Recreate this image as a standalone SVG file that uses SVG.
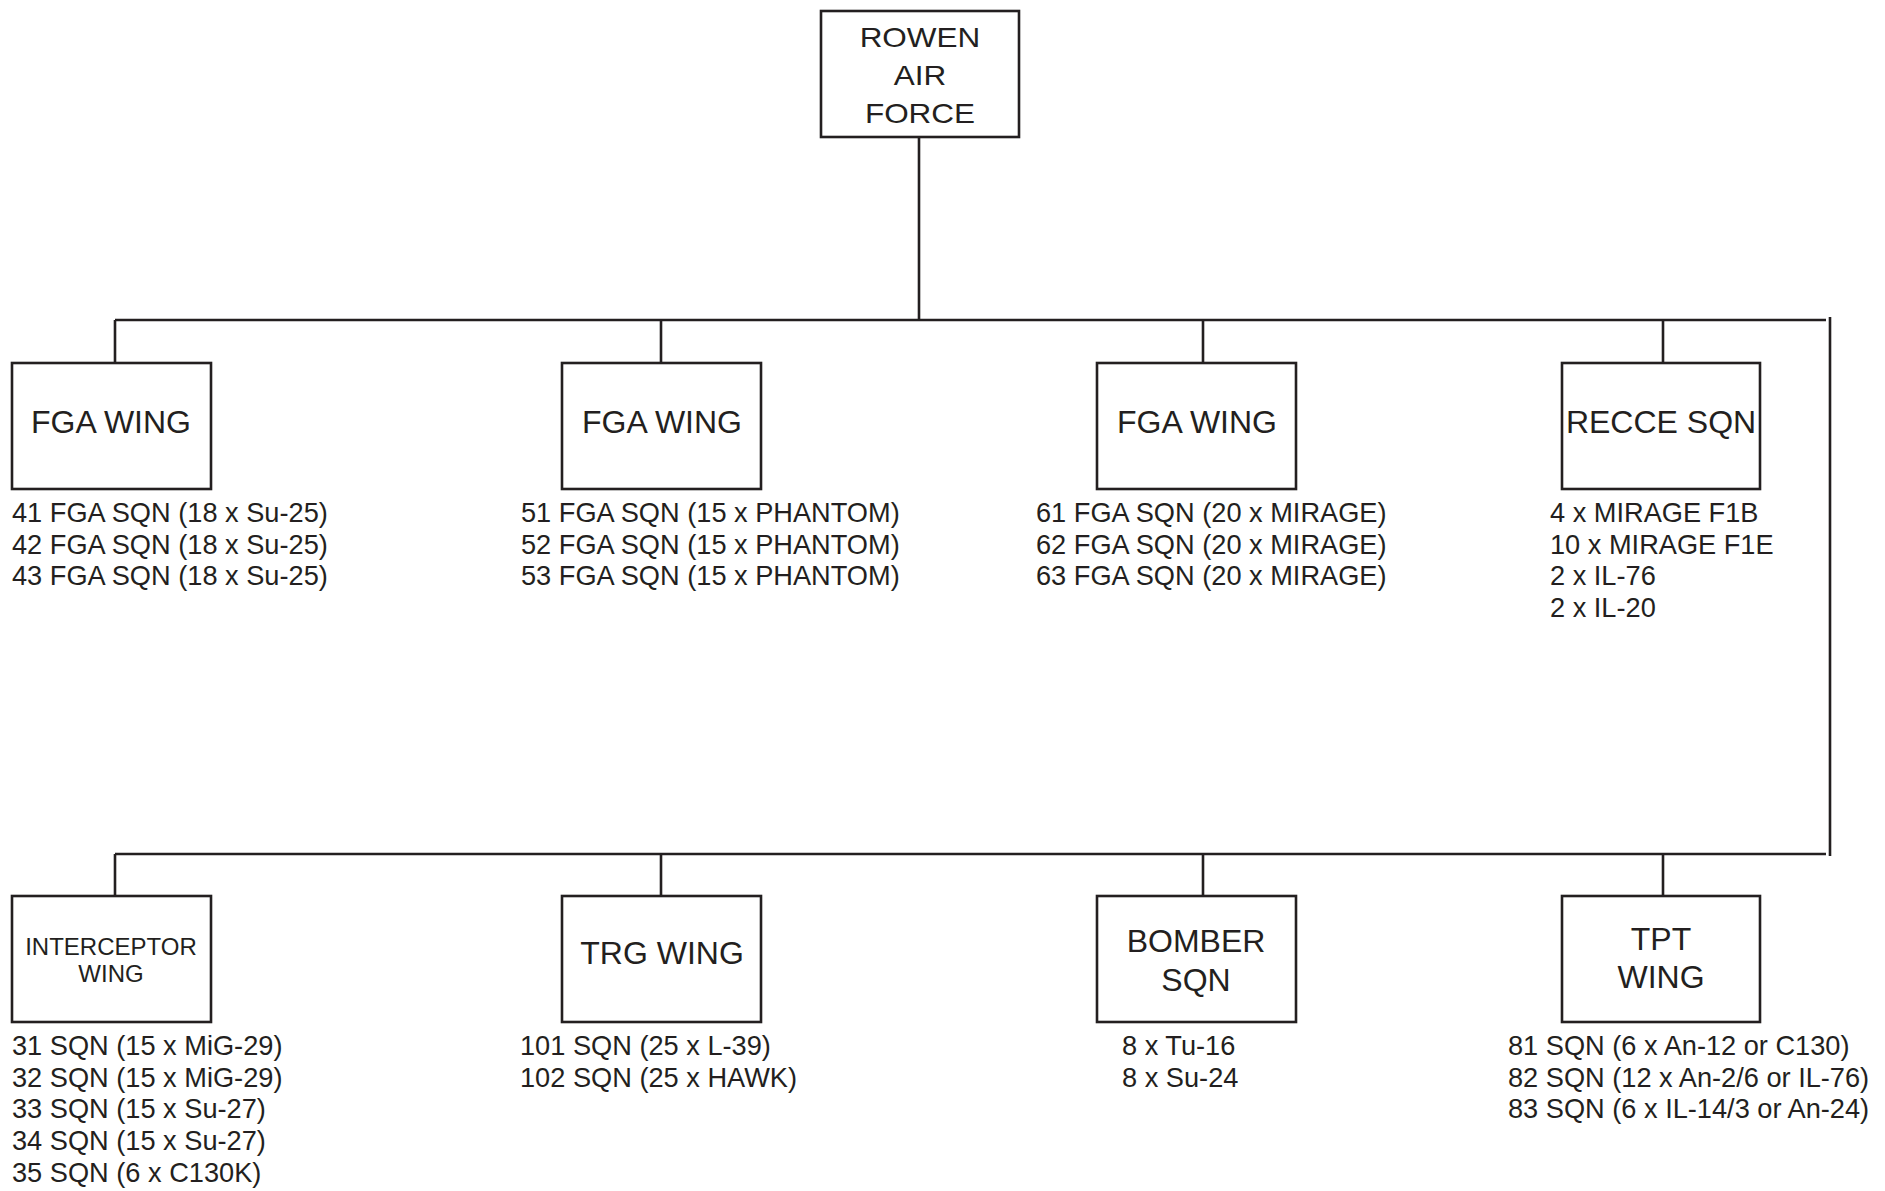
<svg xmlns="http://www.w3.org/2000/svg" width="1885" height="1191" viewBox="0 0 1885 1191">
<style>
.box{fill:#fff;stroke:#231f20;stroke-width:2.6}
.ln{fill:none;stroke:#231f20;stroke-width:2.6}
text{font-family:"Liberation Sans",Arial,Helvetica,sans-serif;fill:#231f20}
.t{font-size:32px;text-anchor:middle}
.r{font-size:31.5px;text-anchor:middle}
.s{font-size:24px;text-anchor:middle}
.l{font-size:27.2px}
</style>
<rect width="1885" height="1191" fill="#fff"/>
<g id="connectors">
<path class="ln" d="M919 137V320M115 320H1826M115 320V363M661 320V363M1203 320V363M1663 320V363"/>
<path class="ln" d="M1830 317V856"/>
<path class="ln" d="M115 854H1826M115 854V896M661 854V896M1203 854V896M1663 854V896"/>
</g>
<g id="root">
<rect class="box" x="821" y="11" width="198" height="126"/>
<text class="r" x="920" y="47" transform="translate(0,5.6) scale(1,0.88)">ROWEN</text>
<text class="r" x="920" y="85" transform="translate(0,10.2) scale(1,0.88)">AIR</text>
<text class="r" x="920" y="123" transform="translate(0,14.8) scale(1,0.88)">FORCE</text>
</g>
<g id="fga1">
<rect class="box" x="12" y="363" width="199" height="126"/>
<text class="t" x="111" y="433">FGA WING</text>
<text class="l" x="12" y="522">41 FGA SQN (18 x Su-25)</text>
<text class="l" x="12" y="554">42 FGA SQN (18 x Su-25)</text>
<text class="l" x="12" y="585">43 FGA SQN (18 x Su-25)</text>
</g>
<g id="fga2">
<rect class="box" x="562" y="363" width="199" height="126"/>
<text class="t" x="662" y="433">FGA WING</text>
<text class="l" x="521" y="522">51 FGA SQN (15 x PHANTOM)</text>
<text class="l" x="521" y="554">52 FGA SQN (15 x PHANTOM)</text>
<text class="l" x="521" y="585">53 FGA SQN (15 x PHANTOM)</text>
</g>
<g id="fga3">
<rect class="box" x="1097" y="363" width="199" height="126"/>
<text class="t" x="1197" y="433">FGA WING</text>
<text class="l" x="1036" y="522">61 FGA SQN (20 x MIRAGE)</text>
<text class="l" x="1036" y="554">62 FGA SQN (20 x MIRAGE)</text>
<text class="l" x="1036" y="585">63 FGA SQN (20 x MIRAGE)</text>
</g>
<g id="recce">
<rect class="box" x="1562" y="363" width="198" height="126"/>
<text class="t" x="1661" y="433">RECCE SQN</text>
<text class="l" x="1550" y="522">4 x MIRAGE F1B</text>
<text class="l" x="1550" y="554">10 x MIRAGE F1E</text>
<text class="l" x="1550" y="585">2 x IL-76</text>
<text class="l" x="1550" y="617">2 x IL-20</text>
</g>
<g id="interceptor">
<rect class="box" x="12" y="896" width="199" height="126"/>
<text class="s" x="111" y="955">INTERCEPTOR</text>
<text class="s" x="111" y="982">WING</text>
<text class="l" x="12" y="1055">31 SQN (15 x MiG-29)</text>
<text class="l" x="12" y="1087">32 SQN (15 x MiG-29)</text>
<text class="l" x="12" y="1118">33 SQN (15 x Su-27)</text>
<text class="l" x="12" y="1150">34 SQN (15 x Su-27)</text>
<text class="l" x="12" y="1182">35 SQN (6 x C130K)</text>
</g>
<g id="trg">
<rect class="box" x="562" y="896" width="199" height="126"/>
<text class="t" x="662" y="964">TRG WING</text>
<text class="l" x="520" y="1055">101 SQN (25 x L-39)</text>
<text class="l" x="520" y="1087">102 SQN (25 x HAWK)</text>
</g>
<g id="bomber">
<rect class="box" x="1097" y="896" width="199" height="126"/>
<text class="t" x="1196" y="952">BOMBER</text>
<text class="t" x="1196" y="991">SQN</text>
<text class="l" x="1122" y="1055">8 x Tu-16</text>
<text class="l" x="1122" y="1087">8 x Su-24</text>
</g>
<g id="tpt">
<rect class="box" x="1562" y="896" width="198" height="126"/>
<text class="t" x="1661" y="950">TPT</text>
<text class="t" x="1661" y="988">WING</text>
<text class="l" x="1508" y="1055">81 SQN (6 x An-12 or C130)</text>
<text class="l" x="1508" y="1087">82 SQN (12 x An-2/6 or IL-76)</text>
<text class="l" x="1508" y="1118">83 SQN (6 x IL-14/3 or An-24)</text>
</g>
</svg>
